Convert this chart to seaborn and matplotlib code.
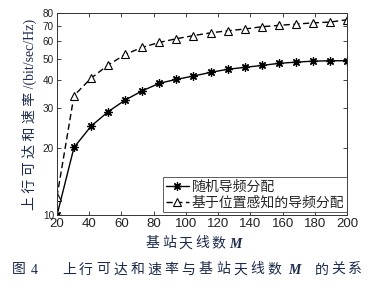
import numpy as np
import pandas as pd
import seaborn as sns
import matplotlib
matplotlib.use('Agg')
import matplotlib.pyplot as plt

sns.set_style('ticks')
plt.rcParams['font.family'] = ['Liberation Sans', 'Noto Sans CJK SC']

# number of base station antennas (18 points between 20 and 200)
antennas = [20, 30.6, 41.2, 51.8, 62.4, 72.9, 83.5, 94.1, 104.7, 115.3,
            125.9, 136.5, 147.1, 157.6, 168.2, 178.8, 189.4, 200]
# uplink achievable sum rate, bit/sec/Hz
rate_random = [10.0, 20.1, 25.0, 29.0, 32.7, 35.9, 38.8, 40.4, 41.8, 43.4,
               44.8, 45.7, 46.6, 47.6, 48.2, 48.7, 48.9, 48.9]
rate_location = [12.1, 34.2, 40.9, 46.8, 52.2, 56.1, 59.0, 61.3, 63.3, 65.1,
                 66.5, 67.7, 69.3, 70.3, 71.2, 72.1, 72.7, 74.5]
series_names = ['随机导频分配', '基于位置感知的导频分配']
xticks = [20, 40, 60, 80, 100, 120, 140, 160, 180, 200]
yticks = [10, 20, 30, 40, 50, 60, 70, 80]

df = pd.DataFrame({'M': antennas, 'random': rate_random, 'location': rate_location})

W, H = 372, 290
fig = plt.figure(figsize=(W / 100, H / 100), dpi=100)
ax = fig.add_axes([0.153, 0.257, 0.780, 0.699])

sns.lineplot(data=df, x='M', y='random', ax=ax, color='k', lw=1.0,
             marker=(8, 2, 0), markersize=6, mec='k', mfc='k', mew=0.9,
             label=series_names[0])
sns.lineplot(data=df, x='M', y='location', ax=ax, color='k', lw=1.0,
             linestyle=(0, (4.5, 2.5)), marker='^', markersize=5.5,
             mec='k', mfc='white', mew=0.8, label=series_names[1])

ax.set_yscale('log')
ax.set_xlim(20, 200)
ax.set_ylim(10, 80)
ax.set_xticks(xticks)
ax.set_xticklabels([str(t) for t in xticks], fontsize=9.5)
ax.set_yticks(yticks)
ax.set_yticklabels([str(t) for t in yticks], fontsize=7.2)
ax.yaxis.set_minor_locator(matplotlib.ticker.NullLocator())
ax.tick_params(direction='in', length=3, width=0.6, top=True, right=True,
               colors='#222222')
ax.tick_params(axis='x', pad=1.5)
ax.tick_params(axis='y', pad=2)
for s in ax.spines.values():
    s.set_linewidth(0.7)
    s.set_color('#333333')
ax.set_xlabel('')

serif_cjk = ['Liberation Serif', 'Noto Sans CJK SC']
txt_col = '#1c2a4c'
ax.set_ylabel('上 行 可 达 和 速 率 /(bit/sec/Hz)', fontsize=10,
              family=serif_cjk, color=txt_col, labelpad=4)

leg = ax.legend(loc='lower right', bbox_to_anchor=(1.0, 0.015),
                borderaxespad=0, frameon=True, fancybox=False,
                prop={'family': 'Noto Sans CJK SC', 'size': 10},
                handlelength=1.65, handletextpad=0.2, borderpad=0.2,
                labelspacing=0.15)
leg.get_frame().set_edgecolor('#333333')
leg.get_frame().set_linewidth(0.7)


# letter-spaced text: one glyph per text object, pitch in pixels
def spaced(chars, x0, y, pitch, italic=False):
    for i, c in enumerate(chars):
        kw = dict(fontsize=10, color=txt_col, va='center', ha='left')
        if italic:
            kw.update(family='Liberation Serif', style='italic', weight='bold')
        else:
            kw.update(family=serif_cjk)
        fig.text((x0 + i * pitch) / W, 1 - y / H, c, **kw)


spaced('基站天线数', 146, 244, 16.4)
spaced('M', 229, 244, 0, italic=True)

spaced('图', 12, 270, 0)
spaced('4', 31, 270, 0)
spaced('上行可达和速率与基站天线数', 62, 270, 17.1)
spaced('M', 288, 270, 0, italic=True)
spaced('的关系', 315, 270, 16.7)

fig.savefig('out.png', dpi=100)
